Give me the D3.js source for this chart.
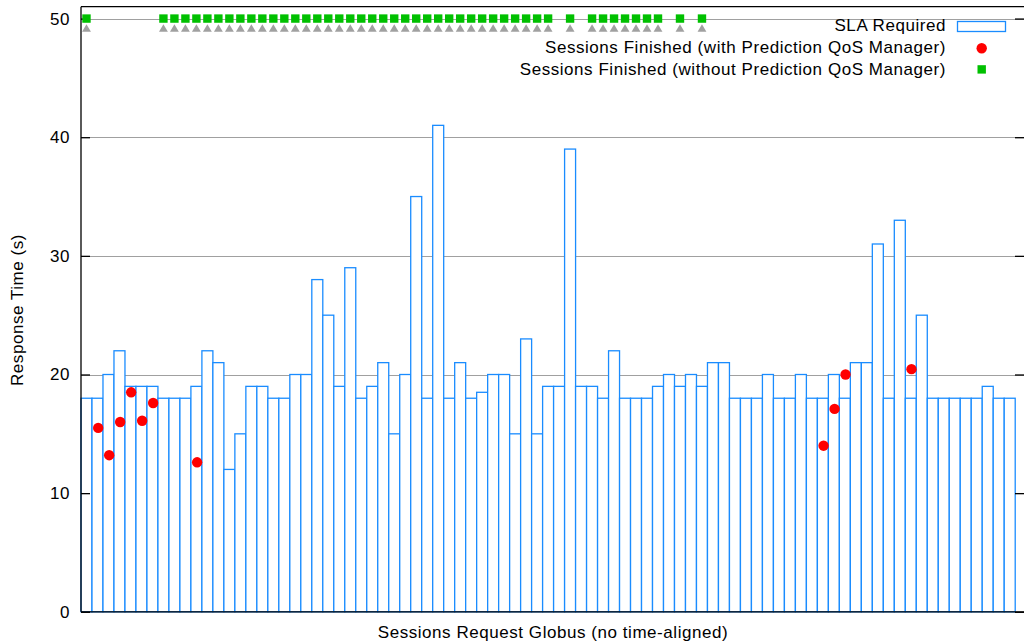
<!DOCTYPE html>
<html>
<head>
<meta charset="utf-8">
<script src="https://cdn.jsdelivr.net/npm/d3@7"></script>
<style>
  html, body { margin: 0; padding: 0; background: #fff; }
  svg { display: block; font-family: "Liberation Sans", Arial, Helvetica, sans-serif; }
  .lbl { font-size: 17px; letter-spacing: 0.55px; fill: #000; }
</style>
</head>
<body>
<svg id="chart" width="1024" height="643"></svg>
<script>
// Session index (one per Globus session request)
const sessions = d3.range(1, 86);

// SLA required response time per session (s)
const slaRequired = [
  18, 18, 20, 22, 19, 19, 19, 18, 18, 18,
  19, 22, 21, 12, 15, 19, 19, 18, 18, 20,
  20, 28, 25, 19, 29, 18, 19, 21, 15, 20,
  35, 18, 41, 18, 21, 18, 18.5, 20, 20, 15,
  23, 15, 19, 19, 39, 19, 19, 18, 22, 18,
  18, 18, 19, 20, 19, 20, 19, 21, 21, 18,
  18, 18, 20, 18, 18, 20, 18, 18, 20, 18,
  21, 21, 31, 18, 33, 18, 25, 18, 18, 18,
  18, 18, 19, 18, 18
];

// Sessions finished with the Prediction QoS Manager: session number and response time
const withPredSessions = [2, 3, 4, 5, 6, 7, 11, 68, 69, 70, 76];
const withPredTimes    = [15.5, 13.2, 16.0, 18.5, 16.1, 17.6, 12.6, 14.0, 17.1, 20.0, 20.45];

// Sessions finished without the Prediction QoS Manager (plotted on the top line)
const withoutPredSessions = [1].concat(d3.range(8, 44), [45], d3.range(47, 54), [55, 57]);
const withoutPredTime = 50;

// Companion marker row drawn just below the top line
const markerRowSessions = withoutPredSessions.slice();
const markerRowTime = 49.1;

const yTicks = [0, 10, 20, 30, 40, 50];

const legendLabels = [
  "SLA Required",
  "Sessions Finished (with Prediction QoS Manager)",
  "Sessions Finished (without Prediction QoS Manager)"
];

const xLabel = "Sessions Request Globus (no time-aligned)";
const yLabel = "Response Time (s)";

// ---- layout ----
const plot = { left: 81, right: 1024, top: 6.7, bottom: 611.8 };
const BLUE = "#1a8cff", RED = "#ff0000", GREEN = "#00c000", GREY = "#a0a0a0";

const svg = d3.select("#chart");

const x = d3.scaleLinear().domain([0.5, 86.3]).range([plot.left, plot.right]);
const y = d3.scaleLinear().domain([0, 51]).range([plot.bottom, plot.top]);

// horizontal grid
svg.append("g").selectAll("line")
  .data(yTicks.filter(d => d > 0))
  .join("line")
  .attr("x1", plot.left).attr("x2", plot.right)
  .attr("y1", d => Math.round(y(d)) + 0.5).attr("y2", d => Math.round(y(d)) + 0.5)
  .attr("stroke", GREY).attr("stroke-width", 1);

// SLA boxes (white filled, blue outline)
svg.append("g").selectAll("rect")
  .data(slaRequired.map((v, i) => ({ s: sessions[i], v })))
  .join("rect")
  .attr("x", d => x(d.s - 0.5))
  .attr("width", d => x(d.s + 0.5) - x(d.s - 0.5))
  .attr("y", d => y(d.v))
  .attr("height", d => y(0) - y(d.v))
  .attr("fill", "#fff")
  .attr("stroke", BLUE).attr("stroke-width", 1.3);

// axes frame
const frame = svg.append("g").attr("stroke", "#000").attr("stroke-width", 1.3);
frame.append("line").attr("x1", plot.left).attr("x2", plot.left).attr("y1", plot.top).attr("y2", plot.bottom);
frame.append("line").attr("x1", plot.left).attr("x2", plot.right).attr("y1", plot.bottom).attr("y2", plot.bottom);
frame.append("line").attr("x1", plot.left).attr("x2", plot.right).attr("y1", plot.top).attr("y2", plot.top);

// y axis (left) with inward ticks
const yAxis = d3.axisLeft(y).tickValues(yTicks).tickSize(-9).tickPadding(11).tickFormat(d3.format("d"));
const gy = svg.append("g").attr("transform", `translate(${plot.left},0)`).call(yAxis);
gy.select(".domain").remove();
gy.selectAll(".tick line").attr("stroke", "#000").attr("stroke-width", 1.3);
gy.selectAll(".tick text").attr("class", "lbl").attr("font-size", null).attr("font-family", null);

// mirrored ticks on the right
const gyr = svg.append("g").attr("transform", `translate(${plot.right},0)`)
  .call(d3.axisRight(y).tickValues(yTicks).tickSize(-9).tickFormat(""));
gyr.select(".domain").remove();
gyr.selectAll(".tick line").attr("stroke", "#000").attr("stroke-width", 1.3);

// marker row (grey triangles)
const tri = d3.symbol().type(d3.symbolTriangle).size(34);
svg.append("g").selectAll("path")
  .data(markerRowSessions)
  .join("path")
  .attr("d", tri)
  .attr("transform", d => `translate(${x(d)},${y(markerRowTime)})`)
  .attr("fill", GREY);

// sessions finished without prediction (green squares)
svg.append("g").selectAll("rect")
  .data(withoutPredSessions)
  .join("rect")
  .attr("x", d => x(d) - 4.2).attr("y", y(withoutPredTime) - 4.2)
  .attr("width", 8.4).attr("height", 8.4)
  .attr("fill", GREEN);

// sessions finished with prediction (red dots)
svg.append("g").selectAll("circle")
  .data(withPredSessions.map((s, i) => ({ s, v: withPredTimes[i] })))
  .join("circle")
  .attr("cx", d => x(d.s) + 0.7).attr("cy", d => y(d.v))
  .attr("r", 5.2).attr("fill", RED);

// legend
const legend = svg.append("g");
const legendY = [30.5, 53, 74.5];
legend.selectAll("text")
  .data(legendLabels)
  .join("text")
  .attr("class", "lbl")
  .attr("x", 946).attr("y", (d, i) => legendY[i])
  .attr("text-anchor", "end")
  .text(d => d);
legend.append("rect").attr("x", 957.5).attr("y", 21.5).attr("width", 48).attr("height", 10)
  .attr("fill", "#fff").attr("stroke", BLUE).attr("stroke-width", 1.3);
legend.append("circle").attr("cx", 981.7).attr("cy", 48.3).attr("r", 5.2).attr("fill", RED);
legend.append("rect").attr("x", 977.5).attr("y", 65.2).attr("width", 8.4).attr("height", 8.4).attr("fill", GREEN);

// axis titles
svg.append("text")
  .attr("class", "lbl")
  .attr("x", 553).attr("y", 638)
  .attr("text-anchor", "middle")
  .text(xLabel);
svg.append("text")
  .attr("class", "lbl")
  .attr("transform", `translate(23,310) rotate(-90)`)
  .attr("text-anchor", "middle")
  .text(yLabel);
</script>
</body>
</html>
